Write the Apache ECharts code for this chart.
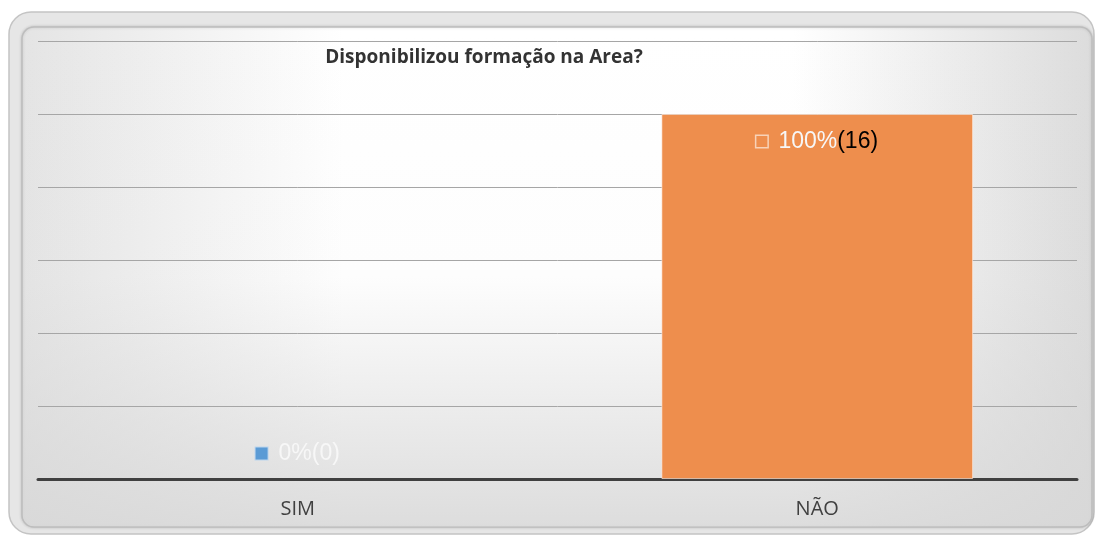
<!DOCTYPE html>
<html><head><meta charset="utf-8">
<script src="https://cdn.jsdelivr.net/npm/echarts@6/dist/echarts.min.js"></script>
<style>html,body{margin:0;padding:0;background:#fff}#c{width:1095px;height:535px}</style>
</head><body><div id="c"></div>
<script>
const title = 'Disponibilizou formação na Area?';
const categories = ['SIM', 'NÃO'];
const percents = [0, 100];
const counts = [0, 16];
const barColors = ['#5b9bd5', '#ee8e4d'];
const axisMax = 120, axisInterval = 20;

const chart = echarts.init(document.getElementById('c'));
const data = percents.map((v, i) => ({
  value: v,
  itemStyle: { color: barColors[i], borderWidth: v === 0 ? 0 : 1 },
  label: i === 0
    ? { position: 'top', distance: 14, formatter: '{sqb|}{gap|}{w|' + v + '%(' + counts[i] + ')}' }
    : { position: 'insideTop', distance: 16, formatter: '{sqo|}{gap|}{w|' + v + '%}{k|(' + counts[i] + ')}' }
}));
chart.setOption({
  animation: false,
  graphic: [
    { type: 'rect', z: -10, shape: { x: 9, y: 12, width: 1085, height: 522, r: 22 },
      style: { fill: '#e6e6e6', stroke: '#c4c4c4', lineWidth: 1.5 } },
    { type: 'rect', z: -9, shape: { x: 22, y: 27, width: 1070, height: 500, r: 12 },
      style: { fill: { type: 'linear', x: 0, y: 0, x2: 1, y2: 0,
        colorStops: [{ offset: 0, color: '#e4e4e4' }, { offset: 0.3, color: '#ffffff' }, { offset: 0.72, color: '#ffffff' }, { offset: 1, color: '#dcdcdc' }] },
        stroke: '#bdbdbd', lineWidth: 1.5, shadowColor: 'rgba(0,0,0,0.15)', shadowBlur: 3 } },
    { type: 'rect', z: -8, shape: { x: 23, y: 28, width: 1068, height: 498, r: 11 },
      style: { fill: { type: 'linear', x: 0, y: 0, x2: 0, y2: 1,
        colorStops: [{ offset: 0, color: 'rgba(215,215,215,0)' }, { offset: 0.5, color: 'rgba(215,215,215,0.05)' }, { offset: 1, color: 'rgba(215,215,215,0.85)' }] } } }
  ],
  title: { text: title, left: 479, top: 43, textAlign: 'center',
    textStyle: { fontFamily: 'Open Sans', fontSize: 19, fontWeight: 'bold', color: '#333333' } },
  grid: { left: 38, right: 18, top: 41, bottom: 56 },
  xAxis: { type: 'category', data: categories,
    axisLine: { lineStyle: { color: '#404040', width: 3 } }, axisTick: { show: false },
    axisLabel: { fontFamily: 'Open Sans', fontSize: 20, color: '#404040', margin: 20 } },
  yAxis: { type: 'value', min: 0, max: axisMax, interval: axisInterval,
    axisLabel: { show: false }, axisLine: { show: false }, axisTick: { show: false },
    splitLine: { lineStyle: { color: '#a6a6a6', width: 1 } } },
  series: [{ type: 'bar', data: data, barWidth: '60%',
    itemStyle: { borderColor: 'rgba(255,240,230,0.6)' },
    label: { show: true, fontFamily: 'Liberation Sans', fontSize: 23,
      rich: {
        w: { color: '#f7f7f7', fontSize: 23, fontFamily: 'Liberation Sans' },
        k: { color: '#000000', fontSize: 23, fontFamily: 'Liberation Sans' },
        gap: { width: 11 },
        sqb: { width: 12, height: 12, backgroundColor: '#5b9bd5', borderColor: '#bcd6ee', borderWidth: 1 },
        sqo: { width: 11, height: 11, backgroundColor: '#ee8e4d', borderColor: '#f8d2b8', borderWidth: 1.5 }
      } } }]
});
</script></body></html>
